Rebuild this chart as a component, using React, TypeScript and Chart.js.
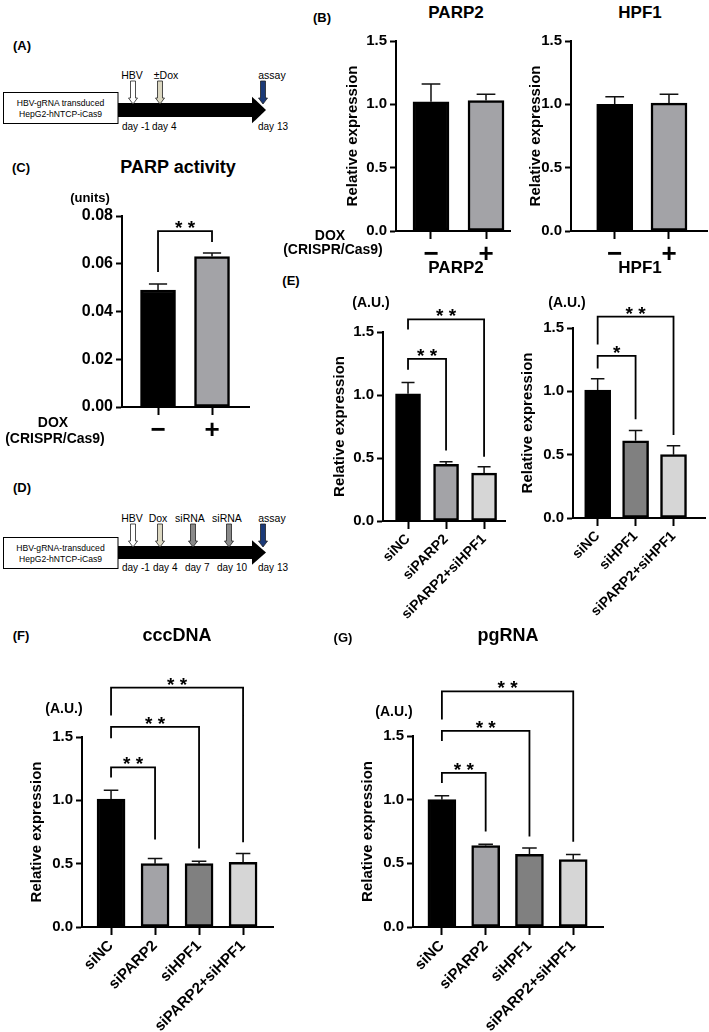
import React, { useEffect, useRef } from 'react';
import { Chart, registerables } from 'chart.js';

Chart.register(...registerables);

const FONT = "'Liberation Sans', Arial, Helvetica, sans-serif";

// ---------------- data ----------------
const doxLabels = ['\u2212', '+'];
const parp2DoxValues = [1.02, 1.03];
const parp2DoxErrors = [1.16, 1.08];
const hpf1DoxValues = [1.0, 1.01];
const hpf1DoxErrors = [1.06, 1.08];

const parpActivityValues = [0.049, 0.063];
const parpActivityErrors = [0.0515, 0.0645];

const eParp2Labels = ['siNC', 'siPARP2', 'siPARP2+siHPF1'];
const eParp2Values = [1.01, 0.45, 0.38];
const eParp2Errors = [1.1, 0.47, 0.43];

const eHpf1Labels = ['siNC', 'siHPF1', 'siPARP2+siHPF1'];
const eHpf1Values = [1.01, 0.61, 0.5];
const eHpf1Errors = [1.1, 0.69, 0.57];

const fourLabels = ['siNC', 'siPARP2', 'siHPF1', 'siPARP2+siHPF1'];
const cccdnaValues = [1.01, 0.5, 0.5, 0.51];
const cccdnaErrors = [1.08, 0.54, 0.52, 0.58];
const pgrnaValues = [1.0, 0.64, 0.57, 0.53];
const pgrnaErrors = [1.03, 0.65, 0.62, 0.57];

const relTicks = [0, 0.5, 1.0, 1.5];
const unitTicks = [0, 0.02, 0.04, 0.06, 0.08];

// brackets: [from, to, top, leftEnd, rightEnd, text]
const cBrackets: [number, number, number, number, number, string][] = [[0, 1, 0.0737, 0.0565, 0.0691, '* *']];
const eParp2Brackets: [number, number, number, number, number, string][] = [
  [0, 1, 1.286, 1.2, 0.56, '* *'],
  [0, 2, 1.6, 1.52, 0.51, '* *'],
];
const eHpf1Brackets: [number, number, number, number, number, string][] = [
  [0, 1, 1.28, 1.18, 0.78, '*'],
  [0, 2, 1.59, 1.37, 0.655, '* *'],
];
const cccdnaBrackets: [number, number, number, number, number, string][] = [
  [0, 1, 1.26, 1.18, 0.69, '* *'],
  [0, 2, 1.58, 1.49, 0.62, '* *'],
  [0, 3, 1.89, 1.67, 0.67, '* *'],
];
const pgrnaBrackets: [number, number, number, number, number, string][] = [
  [0, 1, 1.21, 1.13, 0.75, '* *'],
  [0, 2, 1.54, 1.46, 0.71, '* *'],
  [0, 3, 1.85, 1.63, 0.67, '* *'],
];

const timelineACell = ['HBV-gRNA transduced', 'HepG2-hNTCP-iCas9'];
const timelineAEvents = ['HBV', '\u00B1Dox', 'assay'];
const timelineADays = ['day -1', 'day 4', 'day 13'];
const timelineDCell = ['HBV-gRNA-transduced', 'HepG2-hNTCP-iCas9'];
const timelineDEvents = ['HBV', 'Dox', 'siRNA', 'siRNA', 'assay'];
const timelineDDays = ['day -1', 'day 4', 'day 7', 'day 10', 'day 13'];

// ---------------- styles ----------------
const BLACK = '#000000';
const MID = '#a3a3a7';
const DARK = '#808080';
const LIGHT = '#d6d6d6';

type Panel = {
  key: string;
  labels: string[];
  values: number[];
  errors: number[];
  colors: string[];
  yTicks: number[];
  dec: number;
  box: { l: number; t: number; w: number; h: number };
  area: { x0: number; x1: number; y0: number; y1: number };
  xMin: number;
  xMax: number;
  barPx: number;
  rot: number;
  xFont: number;
  xPad: number;
  yFont: number;
  yTitle?: string;
  titleDx?: number;
  brackets: [number, number, number, number, number, string][];
};

const panels: Panel[] = [
  {
    key: 'bParp2', labels: doxLabels, values: parp2DoxValues, errors: parp2DoxErrors, colors: [BLACK, MID],
    yTicks: relTicks, dec: 1, box: { l: 340, t: 30, w: 174, h: 236 }, area: { x0: 396, x1: 510, y0: 41, y1: 231 },
    xMin: -0.636, xMax: 1.436, barPx: 36, rot: 0, xFont: 26, xPad: 0, yFont: 15, yTitle: 'Relative expression', titleDx: 43, brackets: [],
  },
  {
    key: 'bHpf1', labels: doxLabels, values: hpf1DoxValues, errors: hpf1DoxErrors, colors: [BLACK, MID],
    yTicks: relTicks, dec: 1, box: { l: 515, t: 30, w: 194, h: 236 }, area: { x0: 571, x1: 707, y0: 41, y1: 231 },
    xMin: -0.805, xMax: 1.7, barPx: 36, rot: 0, xFont: 26, xPad: 0, yFont: 15, yTitle: 'Relative expression', titleDx: 35, brackets: [],
  },
  {
    key: 'c', labels: doxLabels, values: parpActivityValues, errors: parpActivityErrors, colors: [BLACK, MID],
    yTicks: unitTicks, dec: 2, box: { l: 46, t: 200, w: 207, h: 242 }, area: { x0: 122, x1: 249, y0: 216, y1: 407 },
    xMin: -0.667, xMax: 1.685, barPx: 35, rot: 0, xFont: 26, xPad: 0, yFont: 16, brackets: cBrackets,
  },
  {
    key: 'eParp2', labels: eParp2Labels, values: eParp2Values, errors: eParp2Errors, colors: [BLACK, MID, LIGHT],
    yTicks: relTicks, dec: 1, box: { l: 327, t: 292, w: 188, h: 339 }, area: { x0: 383, x1: 505, y0: 332, y1: 521 },
    xMin: -0.658, xMax: 2.55, barPx: 25, rot: 45, xFont: 14, xPad: 2, yFont: 15, yTitle: 'Relative expression', titleDx: 43, brackets: eParp2Brackets,
  },
  {
    key: 'eHpf1', labels: eHpf1Labels, values: eHpf1Values, errors: eHpf1Errors, colors: [BLACK, DARK, LIGHT],
    yTicks: relTicks, dec: 1, box: { l: 517, t: 292, w: 192, h: 339 }, area: { x0: 573, x1: 705, y0: 328, y1: 518 },
    xMin: -0.65, xMax: 2.83, barPx: 26, rot: 45, xFont: 14, xPad: 2, yFont: 15, yTitle: 'Relative expression', titleDx: 45, brackets: eHpf1Brackets,
  },
  {
    key: 'f', labels: fourLabels, values: cccdnaValues, errors: cccdnaErrors, colors: [BLACK, MID, DARK, LIGHT],
    yTicks: relTicks, dec: 1, box: { l: 26, t: 655, w: 267, h: 377 }, area: { x0: 82, x1: 273, y0: 737, y1: 927 },
    xMin: -0.66, xMax: 3.68, barPx: 28, rot: 45, xFont: 15, xPad: 2, yFont: 15, yTitle: 'Relative expression', titleDx: 45, brackets: cccdnaBrackets,
  },
  {
    key: 'g', labels: fourLabels, values: pgrnaValues, errors: pgrnaErrors, colors: [BLACK, MID, DARK, LIGHT],
    yTicks: relTicks, dec: 1, box: { l: 357, t: 655, w: 266, h: 377 }, area: { x0: 413, x1: 603, y0: 736, y1: 927 },
    xMin: -0.66, xMax: 3.68, barPx: 28, rot: 45, xFont: 15, xPad: 2, yFont: 15, yTitle: 'Relative expression', titleDx: 45, brackets: pgrnaBrackets,
  },
];

function overlay(p: Panel) {
  return {
    id: 'overlay_' + p.key,
    afterDatasetsDraw(chart: any) {
      const ctx: CanvasRenderingContext2D = chart.ctx;
      const xs = chart.scales.x;
      const ys = chart.scales.y;
      ctx.save();
      ctx.strokeStyle = '#111';
      ctx.lineWidth = 1.5;
      p.errors.forEach((e, i) => {
        const px = xs.getPixelForValue(i);
        const y0 = ys.getPixelForValue(p.values[i]);
        const y1 = ys.getPixelForValue(e);
        const cap = p.barPx * 0.26;
        ctx.beginPath();
        ctx.moveTo(px, y0);
        ctx.lineTo(px, y1);
        ctx.moveTo(px - cap, y1);
        ctx.lineTo(px + cap, y1);
        ctx.stroke();
      });
      ctx.strokeStyle = '#000';
      ctx.lineWidth = 1.8;
      ctx.fillStyle = '#000';
      p.brackets.forEach(([from, to, top, le, re, text]) => {
        const x0 = xs.getPixelForValue(from);
        const x1 = xs.getPixelForValue(to);
        const yt = ys.getPixelForValue(top);
        ctx.beginPath();
        ctx.moveTo(x0, ys.getPixelForValue(le));
        ctx.lineTo(x0, yt);
        ctx.lineTo(x1, yt);
        ctx.lineTo(x1, ys.getPixelForValue(re));
        ctx.stroke();
        ctx.font = `bold 19px ${FONT}`;
        ctx.textAlign = 'center';
        ctx.textBaseline = 'alphabetic';
        ctx.fillText(text, (x0 + x1) / 2, yt + 3);
      });
      if (p.yTitle) {
        ctx.translate(p.area.x0 - (p.titleDx || 40) - p.box.l, (ys.top + ys.bottom) / 2);
        ctx.rotate(-Math.PI / 2);
        ctx.font = `bold 15px ${FONT}`;
        ctx.textAlign = 'center';
        ctx.textBaseline = 'middle';
        ctx.fillText(p.yTitle, 0, 0);
      }
      ctx.restore();
    },
  };
}

function BarPanel({ p }: { p: Panel }) {
  const ref = useRef<HTMLCanvasElement>(null);
  useEffect(() => {
    const c = ref.current!;
    const { box, area } = p;
    const yw = area.x0 - box.l;
    const xh = box.t + box.h - area.y1;
    const chart = new Chart(c, {
      type: 'bar',
      data: {
        datasets: [
          {
            data: p.values.map((v, i) => ({ x: i, y: v })) as any,
            backgroundColor: p.colors,
            borderColor: '#000',
            borderWidth: 2.5,
            borderSkipped: false,
            barThickness: p.barPx,
          },
        ],
      },
      options: {
        responsive: false,
        animation: false,
        devicePixelRatio: 1,
        layout: { padding: { top: area.y0 - box.t, right: box.l + box.w - area.x1, bottom: 0, left: 0 } },
        plugins: { legend: { display: false }, tooltip: { enabled: false }, title: { display: false } },
        scales: {
          x: {
            type: 'linear',
            min: p.xMin,
            max: p.xMax,
            offset: false,
            grid: { display: true, drawOnChartArea: false, drawTicks: true, tickLength: 8, tickWidth: 2, tickColor: '#000', offset: false },
            border: { display: true, color: '#000', width: 2 },
            ticks: {
              autoSkip: false,
              maxRotation: p.rot,
              minRotation: p.rot,
              padding: p.xPad,
              color: '#000',
              font: { family: FONT, size: p.xFont, weight: 'bold' },
              callback: (v: any) => p.labels[Math.round(Number(v))] ?? '',
            },
            afterBuildTicks: (s: any) => {
              s.ticks = p.labels.map((_, i) => ({ value: i }));
            },
            afterFit: (s: any) => {
              s.height = xh;
              s.paddingLeft = 0;
              s.paddingRight = 0;
            },
          } as any,
          y: {
            type: 'linear',
            min: 0,
            max: p.yTicks[p.yTicks.length - 1],
            grid: { display: true, drawOnChartArea: false, drawTicks: true, tickLength: 6, tickWidth: 2, tickColor: '#000' },
            border: { display: true, color: '#000', width: 2 },
            ticks: {
              padding: 3,
              color: '#000',
              font: { family: FONT, size: p.yFont, weight: 'bold' },
              callback: (v: any) => Number(v).toFixed(p.dec),
            },
            afterBuildTicks: (s: any) => {
              s.ticks = p.yTicks.map((v) => ({ value: v }));
            },
            afterFit: (s: any) => {
              s.width = yw;
              s.paddingTop = 0;
              s.paddingBottom = 0;
            },
          } as any,
        },
      },
      plugins: [overlay(p) as any],
    });
    return () => chart.destroy();
  }, []);
  return (
    <canvas
      ref={ref}
      width={p.box.w}
      height={p.box.h}
      style={{ position: 'absolute', left: p.box.l, top: p.box.t, width: p.box.w, height: p.box.h }}
    />
  );
}

function Txt({ x, y, size, bold = true, children }: { x: number; y: number; size: number; bold?: boolean; children: React.ReactNode }) {
  return (
    <div
      style={{
        position: 'absolute',
        left: x,
        top: y,
        transform: 'translate(-50%, -50%)',
        whiteSpace: 'nowrap',
        fontSize: size,
        fontWeight: bold ? 'bold' : 'normal',
        lineHeight: 1,
        color: '#000',
      }}
    >
      {children}
    </div>
  );
}

type TL = {
  cell: string[];
  events: string[];
  days: string[];
  eventX: number[];
  eventLabelX: number[];
  arrowColors: string[];
  dayX: number[];
  labelY: number;
  arrowTop: number;
  barTop: number;
  barBottom: number;
  dayY: number;
  boxTop: number;
  boxBottom: number;
};

const timelineA: TL = {
  cell: timelineACell, events: timelineAEvents, days: timelineADays,
  eventX: [133, 160, 263], eventLabelX: [132, 166, 272],
  arrowColors: ['#ffffff', '#dcd8c2', '#1b3a78'],
  dayX: [122, 152, 258], labelY: 75, arrowTop: 81, barTop: 103, barBottom: 117, dayY: 126, boxTop: 92, boxBottom: 123,
};
const timelineD: TL = {
  cell: timelineDCell, events: timelineDEvents, days: timelineDDays,
  eventX: [133, 160, 193, 229, 263], eventLabelX: [132, 158, 190, 227, 272],
  arrowColors: ['#ffffff', '#dcd8c2', '#8a8a8a', '#8a8a8a', '#1b3a78'],
  dayX: [122, 153, 185, 217, 258], labelY: 518, arrowTop: 524, barTop: 546, barBottom: 559, dayY: 567, boxTop: 537, boxBottom: 568,
};

function Timeline({ t }: { t: TL }) {
  const mid = (t.barTop + t.barBottom) / 2;
  const headH = (t.barBottom - t.barTop) * 0.95;
  return (
    <g>
      <rect x={3.5} y={t.boxTop + 0.5} width={114.5} height={t.boxBottom - t.boxTop} fill="#fff" stroke="#000" strokeWidth={1} />
      {t.cell.map((s, i) => (
        <text key={i} x={60.5} y={t.boxTop + 11 + i * 11} fontSize={8.6} textAnchor="middle" dominantBaseline="central" fontFamily={FONT}>
          {s}
        </text>
      ))}
      <rect x={118} y={t.barTop} width={136} height={t.barBottom - t.barTop} fill="#000" />
      <polygon points={`252,${mid - headH} 266,${mid} 252,${mid + headH}`} fill="#000" />
      {t.eventX.map((x, i) => {
        const top = t.arrowTop;
        const bot = t.barTop + 1;
        const hh = 6;
        const pts = `${x - 2.5},${top} ${x + 2.5},${top} ${x + 2.5},${bot - hh} ${x + 4.5},${bot - hh} ${x},${bot} ${x - 4.5},${bot - hh} ${x - 2.5},${bot - hh}`;
        return <polygon key={i} points={pts} fill={t.arrowColors[i]} stroke="#222" strokeWidth={0.8} />;
      })}
      {t.events.map((s, i) => (
        <text key={i} x={t.eventLabelX[i]} y={t.labelY} fontSize={10.5} textAnchor="middle" dominantBaseline="central" fontFamily={FONT}>
          {s}
        </text>
      ))}
      {t.days.map((s, i) => (
        <text key={i} x={t.dayX[i]} y={t.dayY} fontSize={10} textAnchor="start" dominantBaseline="central" fontFamily={FONT}>
          {s}
        </text>
      ))}
    </g>
  );
}

export default function App() {
  return (
    <div
      style={{
        position: 'fixed',
        left: 0,
        top: 0,
        width: 709,
        height: 1032,
        background: '#fff',
        fontFamily: FONT,
        overflow: 'hidden',
      }}
    >
      <svg width={709} height={1032} style={{ position: 'absolute', left: 0, top: 0 }}>
        <Timeline t={timelineA} />
        <Timeline t={timelineD} />
      </svg>
      {panels.map((p) => (
        <BarPanel key={p.key} p={p} />
      ))}
      <Txt x={22} y={45} size={13}>(A)</Txt>
      <Txt x={322} y={17} size={13}>(B)</Txt>
      <Txt x={21} y={167} size={13}>(C)</Txt>
      <Txt x={22} y={487} size={13}>(D)</Txt>
      <Txt x={291} y={280} size={13}>(E)</Txt>
      <Txt x={21} y={635} size={13}>(F)</Txt>
      <Txt x={343} y={637} size={13}>(G)</Txt>

      <Txt x={456} y={12} size={17}>PARP2</Txt>
      <Txt x={640} y={12} size={17}>HPF1</Txt>
      <Txt x={330} y={235} size={14}>DOX</Txt>
      <Txt x={333} y={249} size={14}>(CRISPR/Cas9)</Txt>

      <Txt x={178} y={167} size={18}>PARP activity</Txt>
      <Txt x={90} y={197} size={13}>(units)</Txt>
      <Txt x={53} y={422} size={14}>DOX</Txt>
      <Txt x={55} y={438} size={14}>(CRISPR/Cas9)</Txt>

      <Txt x={456} y={267} size={17}>PARP2</Txt>
      <Txt x={640} y={267} size={17}>HPF1</Txt>
      <Txt x={371} y={302} size={14}>(A.U.)</Txt>
      <Txt x={567} y={302} size={14}>(A.U.)</Txt>

      <Txt x={177} y={635} size={18}>cccDNA</Txt>
      <Txt x={508} y={635} size={18}>pgRNA</Txt>
      <Txt x={64} y={708} size={14}>(A.U.)</Txt>
      <Txt x={394} y={711} size={14}>(A.U.)</Txt>
    </div>
  );
}
